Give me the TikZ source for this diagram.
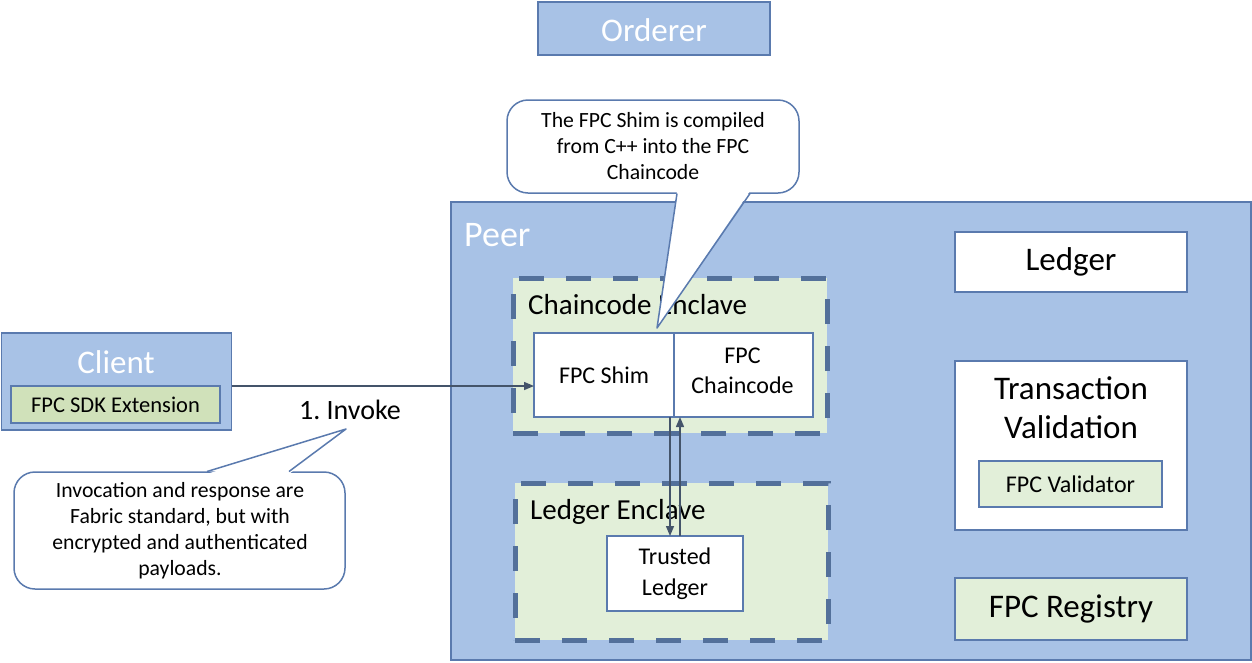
\documentclass[tikz,border=0pt]{standalone}
\usepackage{fontspec}
\setmainfont{Carlito}
\usetikzlibrary{arrows.meta}
\definecolor{azul}{HTML}{A8C2E6}
\definecolor{borde}{HTML}{5A7AAE}
\definecolor{rayas}{HTML}{53709A}
\definecolor{verde}{HTML}{E2EFD9}
\definecolor{verdesdk}{HTML}{D0E1BA}
\definecolor{flecha}{HTML}{44546A}
\tikzset{
    caja/.style={draw=borde,line width=1.5pt,inner sep=0pt,outer sep=0pt},
    cajaazul/.style={caja,fill=azul},
    cajablanca/.style={caja,fill=white},
    cajaverde/.style={caja,fill=verde},
    enclave/.style={fill=verde,draw=rayas,line width=5pt,dash pattern=on 25pt off 22pt,inner sep=0pt,outer sep=0pt},
    flechita/.style={draw=flecha,line width=1.4pt,-{Triangle[length=10pt,width=8pt]}},
    globo/.style={draw=borde,line width=1.5pt,fill=white,rounded corners=21pt},
    globolinea/.style={draw=borde,line width=1.5pt,line join=round},
    texto/.style={align=center,inner sep=0pt}
}
\begin{document}
\begin{tikzpicture}[x=1pt,y=-1pt]
        \useasboundingbox (0,0) rectangle (1252,662);
        %Orderer y Client
        \node[cajaazul,minimum width=232pt,minimum height=53pt] (orderer) at (654,28.5) {};
        \node[texto,text=white,font=\fontsize{33}{40}\selectfont] (ordererlbl) at (654,30) {Orderer};
        \node[cajaazul,minimum width=230pt,minimum height=97pt] (client) at (116.5,381.5) {};
        \node[texto,text=white,font=\fontsize{33}{40}\selectfont] (clientlbl) at (116,362) {Client};
        \node[caja,fill=verdesdk,minimum width=209pt,minimum height=37pt,font=\fontsize{22.5}{27}\selectfont] (sdk) at (115.5,404.5) {FPC SDK Extension};
        %Peer
        \begin{scope}
            \node[caja,fill=azul,line width=2pt,minimum width=800pt,minimum height=458pt] (peer) at (851,431) {};
            \node[texto,anchor=west,text=white,font=\fontsize{36}{43}\selectfont] (peerlbl) at (464,235) {Peer};
            \node[enclave,minimum width=314pt,minimum height=155pt] (ccencl) at (670,355.5) {};
            \node[texto,anchor=west,font=\fontsize{29}{35}\selectfont] (ccencllbl) at (528,305) {Chaincode Enclave};
            \node[cajablanca,minimum width=140pt,minimum height=84pt,font=\fontsize{24}{30}\selectfont] (shim) at (604,375) {FPC Shim};
            \node[cajablanca,minimum width=139pt,minimum height=84pt] (fpccc) at (743.5,375) {};
            \node[texto,font=\fontsize{24}{30}\selectfont] (fpccclbl) at (742.5,371) {FPC\\Chaincode};
            \node[enclave,minimum width=313pt,minimum height=157pt] (ldencl) at (671.5,561.5) {};
            \node[texto,anchor=west,font=\fontsize{29}{35}\selectfont] (ldencllbl) at (530,512) {Ledger Enclave};
            \node[cajablanca,minimum width=136pt,minimum height=75pt,font=\fontsize{24}{31}\selectfont,align=center] (trusted) at (675,573.5) {Trusted\\Ledger};
            \node[cajablanca,minimum width=232pt,minimum height=60pt,font=\fontsize{33}{40}\selectfont] (ledger) at (1071,262) {Ledger};
            \node[cajablanca,minimum width=232pt,minimum height=169pt] (txval) at (1071,445.5) {};
            \node[texto,font=\fontsize{33}{39}\selectfont] (txvallbl) at (1071,407.5) {Transaction\\Validation};
            \node[cajaverde,minimum width=183pt,minimum height=46pt,font=\fontsize{24}{30}\selectfont] (validator) at (1070.5,484) {FPC Validator};
            \node[cajaverde,minimum width=232pt,minimum height=62pt,font=\fontsize{33}{40}\selectfont] (registry) at (1071,609) {FPC Registry};
        \end{scope}
        %Flechas
        \draw[flechita] (client.east |- 0,386) -- (shim.west |- 0,386);
        \node[texto,font=\fontsize{28}{34}\selectfont] (invoke) at (350,410) {1.\ Invoke};
        \draw[flechita] ([xshift=-4pt]shim.south east) -- ([xshift=-4pt]shim.south east |- trusted.north);
        \draw[flechita] ([xshift=6pt]fpccc.south west |- trusted.north) -- ([xshift=6pt]fpccc.south west);
        %Globos
        \draw[globo] (507,100) rectangle (799,193);
        \fill[white] (677,191) -- (657,328) -- (750,191) -- cycle;
        \draw[globolinea] (677,193.5) -- (657,328) coordinate (punta1) -- (750,193.5);
        \node[texto,font=\fontsize{21.7}{26}\selectfont] (nota1) at (653,146) {The FPC Shim is compiled\\from C++ into the FPC\\Chaincode};
        \draw[globo] (14,472) rectangle (345,589);
        \fill[white] (207,474) -- (346,429) -- (289,474) -- cycle;
        \draw[globolinea] (207,471.5) -- (346,429) coordinate (punta2) -- (289,471.5);
        \node[texto,font=\fontsize{21.7}{26}\selectfont] (nota2) at (180,531) {Invocation and response are\\Fabric standard, but with\\encrypted and authenticated\\payloads.};
    \end{tikzpicture}
\end{document}
